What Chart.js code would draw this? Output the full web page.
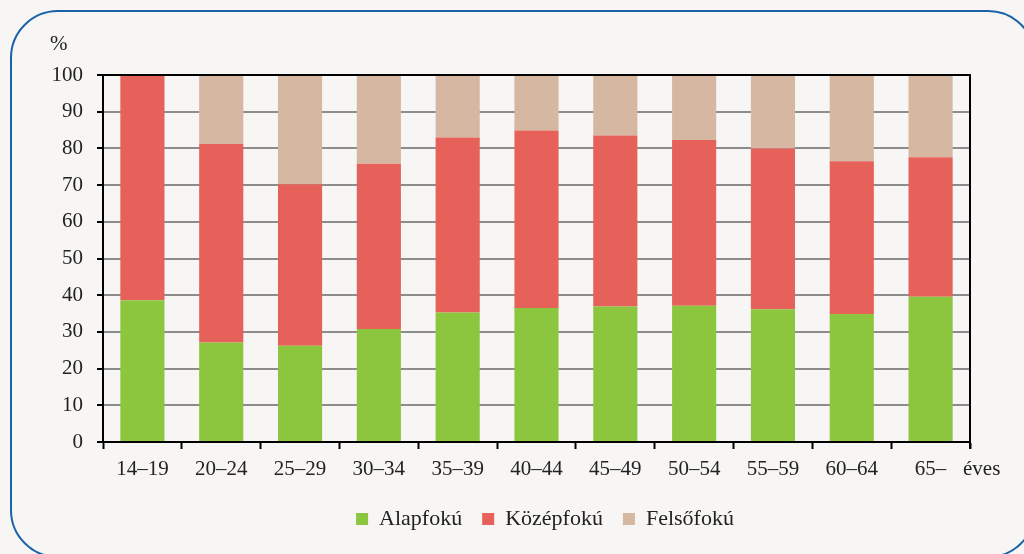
<!DOCTYPE html>
<html>
<head>
<meta charset="utf-8">
<script src="https://cdn.jsdelivr.net/npm/chart.js@4.4.1/dist/chart.umd.min.js"></script>
<style>
  html, body { margin:0; padding:0; background:#f7f6f4; overflow:hidden; }
  #wrap { position:relative; width:1024px; height:554px; overflow:hidden; }
  #frame { position:absolute; left:10px; top:10px; width:1026px; height:548px;
           border:2px solid #1b62a8; border-radius:48px; box-sizing:border-box; }
  canvas { position:absolute; left:0; top:0; }
</style>
</head>
<body>
<div id="wrap">
  <div id="frame"></div>
  <canvas id="c" width="1024" height="554"></canvas>
</div>
<script>
const categories = ['14–19','20–24','25–29','30–34','35–39','40–44','45–49','50–54','55–59','60–64','65–'];
const alapfoku   = [38.6, 27.1, 26.2, 30.8, 35.3, 36.5, 36.9, 37.1, 36.2, 34.9, 39.6];
const kozepfoku  = [61.4, 54.1, 44.0, 45.0, 47.7, 48.4, 46.6, 45.2, 43.8, 41.6, 38.0];
const felsofoku  = [0.0, 18.8, 29.8, 24.2, 17.0, 15.1, 16.5, 17.7, 20.0, 23.5, 22.4];
const yTicks = [0,10,20,30,40,50,60,70,80,90,100];
const seriesNames = ['Alapfokú','Középfokú','Felsőfokú'];
const colors = ['#8cc63f','#e6615a','#d6b7a2'];
const FONT = "'Liberation Serif', 'DejaVu Serif', serif";

const framePlugin = {
  id: 'framePlugin',
  afterLayout(chart) {
    const lg = chart.legend;
    if (lg) { lg.left += 60; lg.right += 60; }
  },
  afterDatasetsDraw(chart) {
    const {ctx, chartArea:a} = chart;
    ctx.save();
    ctx.strokeStyle = '#000';
    ctx.lineWidth = 2;
    ctx.beginPath();
    ctx.moveTo(a.left, a.top); ctx.lineTo(a.right, a.top); ctx.lineTo(a.right, a.bottom + 7);
    ctx.stroke();
    ctx.fillStyle = '#222';
    ctx.font = "21px " + FONT;
    ctx.textBaseline = 'middle';
    ctx.textAlign = 'left';
    ctx.fillText('%', 50, 44);
    ctx.fillText('éves', 963, 469);
    ctx.restore();
  }
};

new Chart(document.getElementById('c'), {
  type: 'bar',
  data: {
    labels: categories,
    datasets: [
      { label: seriesNames[0], data: alapfoku, backgroundColor: colors[0] },
      { label: seriesNames[1], data: kozepfoku, backgroundColor: colors[1] },
      { label: seriesNames[2], data: felsofoku, backgroundColor: colors[2] }
    ]
  },
  options: {
    responsive: false,
    animation: false,
    devicePixelRatio: 1,
    layout: { padding: { left: 0, right: 54, top: 75, bottom: 14 } },
    datasets: { bar: { barPercentage: 0.56, categoryPercentage: 1.0 } },
    plugins: {
      legend: {
        position: 'bottom',
        labels: {
          font: { family: FONT, size: 22 },
          color: '#222',
          boxWidth: 12, boxHeight: 12, padding: 20
        }
      },
      tooltip: { enabled: false }
    },
    scales: {
      x: {
        stacked: true,
        offset: true,
        grid: { display: true, drawOnChartArea: false, drawTicks: true, tickLength: 7, tickColor: '#000', tickWidth: 2, offset: true },
        border: { display: true, color: '#000', width: 2 },
        ticks: { font: { family: FONT, size: 21 }, color: '#222', padding: 8, maxRotation: 0 },
        afterFit(s) { s.height = 46; }
      },
      y: {
        stacked: true,
        min: 0, max: 100,
        afterBuildTicks(s) { s.ticks = yTicks.map(v => ({ value: v })); },
        grid: { color: '#8c8c8c', lineWidth: 2, tickLength: 6, tickColor: '#000', tickWidth: 2 },
        border: { display: true, color: '#000', width: 2 },
        ticks: { font: { family: FONT, size: 21 }, color: '#222', padding: 14 },
        afterFit(s) { s.width = 103; }
      }
    }
  },
  plugins: [framePlugin]
});
</script>
</body>
</html>
